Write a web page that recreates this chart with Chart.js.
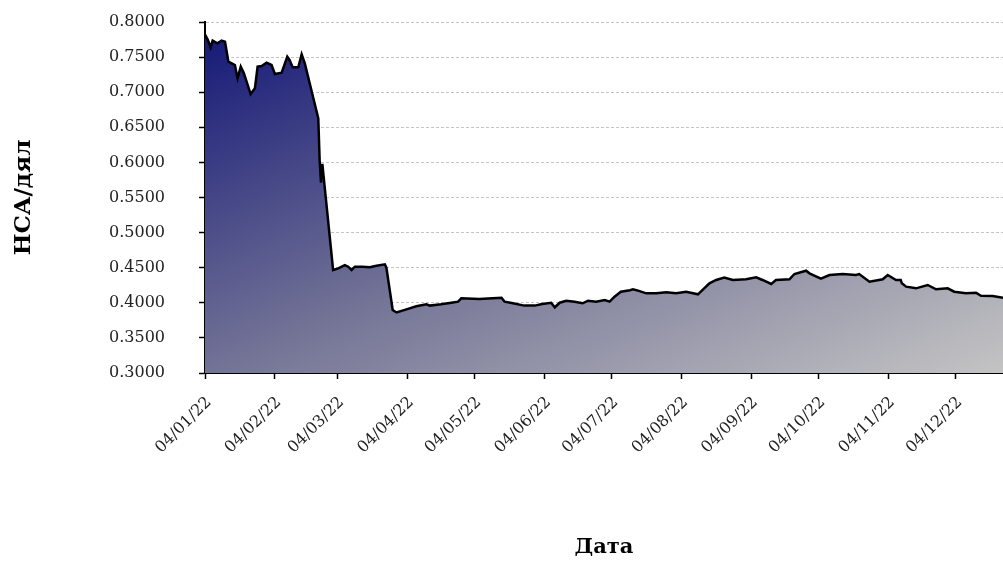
<!DOCTYPE html>
<html>
<head>
<meta charset="utf-8">
<script src="https://cdn.jsdelivr.net/npm/chart.js@4.4.0/dist/chart.umd.min.js"></script>
<style>
html,body{margin:0;padding:0;background:#fff;}
#wrap{width:1003px;height:561px;position:relative;}
</style>
</head>
<body>
<div id="wrap"><canvas id="c" width="1003" height="561"></canvas></div>
<script>
// Days counted from 04/01/22
const days = [0,1.2,2.5,3.4,5.5,7.4,8.9,10.4,13.3,14.5,15.9,17.3,20.3,22.2,23.4,25.2,27.4,29.6,31.1,34.1,36.6,37.6,39,41.5,43,44.4,
  50.4,51.0,51.6,52.2,57,59.3,62.2,63.7,65.2,66.7,70,73.3,76.3,80,80.7,83.5,85.2,89.6,94,98.5,100,105,109.6,112.6,114,
  122,128,131.9,133.3,137,142,146.7,150,154,155.6,157.8,160.7,164.4,168,170.4,174,177.8,180,182.2,185,189,190.4,193,
  196.3,200.7,205.2,209.6,214,219.3,224.4,227.4,231,234.8,240.7,245.2,248,251.9,254,260,262.2,267.4,268.9,274,277.8,
  283.7,289.6,291,295.6,301.5,303.7,307.4,309.5,310,311.9,316.3,321.5,325.2,330.4,333.3,338.5,343,345.2,350.4,355];
const values = [0.782,0.775,0.764,0.7734,0.7696,0.7734,0.772,0.7435,0.7387,0.7198,0.7364,0.7269,0.6974,0.7055,0.7364,0.7373,0.742,0.7387,0.7259,0.7278,0.7506,0.7459,0.7355,0.7355,0.754,0.7411,
  0.6628,0.603,0.571,0.598,0.4467,0.449,0.4538,0.4514,0.4467,0.4514,0.4514,0.4506,0.4528,0.4548,0.45,0.3897,0.3862,0.3907,0.395,0.3979,0.396,0.3979,0.4001,0.4016,0.4064,
  0.4054,0.4064,0.4073,0.4016,0.3993,0.396,0.396,0.3983,0.4001,0.3936,0.4001,0.403,0.4016,0.3993,0.403,0.4016,0.404,0.4016,0.4087,0.4158,0.418,0.4192,0.417,
  0.4135,0.4135,0.415,0.4135,0.4158,0.4121,0.4278,0.4325,0.4358,0.4325,0.4335,0.4363,0.4325,0.4268,0.4325,0.4335,0.441,0.4457,0.442,0.4343,0.4396,
  0.441,0.4396,0.441,0.4301,0.4335,0.4396,0.4325,0.4325,0.428,0.423,0.4206,0.4254,0.4192,0.4206,0.4158,0.4135,0.4144,0.4101,0.4097,0.4073];
const tickDays = [0,31,59,90,120,151,181,212,243,273,304,334];
const tickLabels = ['04/01/22','04/02/22','04/03/22','04/04/22','04/05/22','04/06/22','04/07/22','04/08/22','04/09/22','04/10/22','04/11/22','04/12/22'];
const yTitle = 'НСА/дял';
const xTitle = 'Дата';

const points = days.map((d, i) => ({x: d, y: values[i]}));

function areaGradient(context) {
  const chart = context.chart;
  const a = chart.chartArea;
  if (!a) return 'rgba(0,0,0,0)';
  const W = a.right - a.left, H = a.bottom - a.top;
  const k = 2 * W * H / (W * W + H * H);
  const g = chart.ctx.createLinearGradient(a.left, a.top, a.left + k * H, a.top + k * W);
  g.addColorStop(0, 'rgb(18,22,118)');
  g.addColorStop(0.5, 'rgb(115,115,150)');
  g.addColorStop(1, 'rgb(196,196,196)');
  return g;
}

const tickFont = {family: 'DejaVu Serif', size: 16};

new Chart(document.getElementById('c'), {
  type: 'line',
  data: {
    datasets: [{
      data: points,
      borderColor: '#000',
      borderWidth: 2.5,
      pointRadius: 0,
      tension: 0,
      fill: 'start',
      backgroundColor: areaGradient
    }]
  },
  options: {
    responsive: false,
    animation: false,
    devicePixelRatio: 1,
    layout: {padding: {top: 22, left: 0, right: 0, bottom: 0}},
    plugins: {legend: {display: false}, tooltip: {enabled: false}},
    scales: {
      x: {
        type: 'linear',
        min: 0,
        max: 355,
        afterBuildTicks: s => { s.ticks = tickDays.map(v => ({value: v})); },
        afterFit: s => { s.height = 188; },
        ticks: {
          autoSkip: false,
          minRotation: 45,
          maxRotation: 45,
          padding: 14,
          labelOffset: 4,
          color: '#222',
          font: tickFont,
          callback: v => tickLabels[tickDays.indexOf(v)]
        },
        grid: {drawOnChartArea: false, drawTicks: true, tickLength: 6, tickColor: '#000', tickWidth: 1.5},
        border: {color: '#000', width: 2},
        title: {display: true, text: xTitle, color: '#000', font: {family: 'DejaVu Serif', size: 21, weight: 'bold'}, padding: {top: 0, bottom: 1}}
      },
      y: {
        min: 0.3,
        max: 0.8,
        afterFit: s => { s.width = 205; s.paddingTop = 10; s.paddingBottom = 10; },
        ticks: {
          stepSize: 0.05,
          padding: 34,
          color: '#222',
          font: tickFont,
          callback: v => v.toFixed(4)
        },
        grid: {
          color: c => (c.tick && c.tick.value < 0.3001) ? 'rgba(0,0,0,0)' : '#c4c4c4',
          lineWidth: 1,
          tickLength: 6,
          tickColor: '#000',
          tickWidth: 1.5
        },
        border: {color: '#000', width: 2, dash: [3, 2]},
        title: {display: true, text: yTitle, color: '#000', font: {family: 'DejaVu Serif', size: 23, weight: 'bold'}, padding: {top: 10, bottom: 0}}
      }
    }
  }
});
</script>
</body>
</html>
